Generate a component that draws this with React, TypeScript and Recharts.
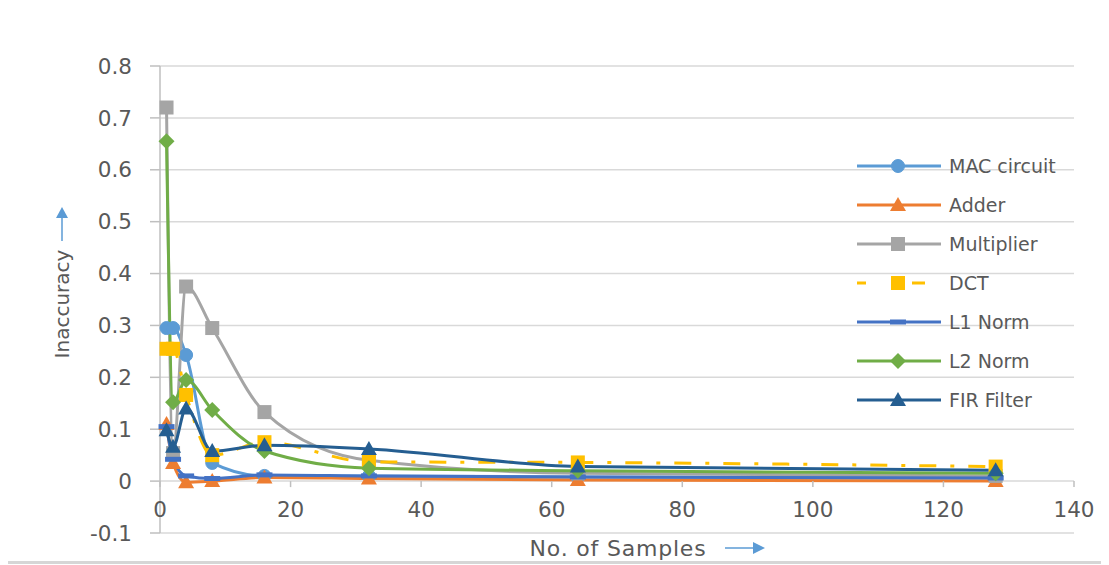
import React from 'react';
import { LineChart, Line, XAxis, YAxis, CartesianGrid, Label } from 'recharts';

const samples = [1, 2, 4, 8, 16, 32, 64, 128];
const macCircuit = [0.295, 0.295, 0.243, 0.035, 0.01, 0.01, 0.008, 0.006];
const adder = [0.11, 0.035, -0.002, 0.0, 0.007, 0.005, 0.002, 0.0];
const multiplier = [0.72, 0.054, 0.375, 0.295, 0.133, 0.04, 0.015, 0.01];
const dct = [0.255, 0.255, 0.166, 0.05, 0.075, 0.037, 0.036, 0.028];
const l1Norm = [0.105, 0.042, 0.01, 0.005, 0.012, 0.01, 0.008, 0.006];
const l2Norm = [0.655, 0.152, 0.195, 0.137, 0.058, 0.025, 0.02, 0.015];
const firFilter = [0.098, 0.066, 0.14, 0.058, 0.069, 0.062, 0.028, 0.021];

const xTicks = [0, 20, 40, 60, 80, 100, 120, 140];
const yTicks = [-0.1, 0, 0.1, 0.2, 0.3, 0.4, 0.5, 0.6, 0.7, 0.8];

const FONT = '"DejaVu Sans", sans-serif';
const TEXT = '#595959';
const GRID = '#d9d9d9';
const AXIS = '#bfbfbf';

const W = 1093;
const H = 552;
const PLOT_TOP = 58;
const PLOT_H = 467;
const Y_MIN = -0.1;
const Y_MAX = 0.8;
const zeroY = PLOT_TOP + (PLOT_H * Y_MAX) / (Y_MAX - Y_MIN);

const series = [
  { key: 'mac', name: 'MAC circuit', color: '#5B9BD5', shape: 'circle', values: macCircuit },
  { key: 'adder', name: 'Adder', color: '#ED7D31', shape: 'triangle', values: adder },
  { key: 'mult', name: 'Multiplier', color: '#A5A5A5', shape: 'square', values: multiplier },
  { key: 'dct', name: 'DCT', color: '#FFC000', shape: 'square', values: dct, dash: '17 14 4 14' },
  { key: 'l1', name: 'L1 Norm', color: '#4472C4', shape: 'dash', values: l1Norm },
  { key: 'l2', name: 'L2 Norm', color: '#70AD47', shape: 'diamond', values: l2Norm },
  { key: 'fir', name: 'FIR Filter', color: '#255E91', shape: 'triangle', values: firFilter },
];

const data = samples.map((s, i) => {
  const row: Record<string, number> = { samples: s };
  series.forEach(sr => { row[sr.key] = sr.values[i]; });
  return row;
});

const Marker = ({ shape, cx, cy, color }: { shape: string; cx: number; cy: number; color: string }) => {
  if (cx == null || cy == null) return <g />;
  switch (shape) {
    case 'circle':
      return <circle cx={cx} cy={cy} r={6.5} fill={color} stroke={color} />;
    case 'triangle':
      return <polygon points={`${cx},${cy - 8} ${cx - 8},${cy + 6} ${cx + 8},${cy + 6}`} fill={color} />;
    case 'square':
      return <rect x={cx - 7} y={cy - 7} width={14} height={14} fill={color} />;
    case 'diamond':
      return <polygon points={`${cx},${cy - 8} ${cx + 8},${cy} ${cx},${cy + 8} ${cx - 8},${cy}`} fill={color} />;
    case 'dash':
      return <rect x={cx - 8} y={cy - 2.5} width={16} height={5} fill={color} />;
    default:
      return <g />;
  }
};

const XTick = ({ x, payload }: any) => (
  <g>
    <line x1={x} x2={x} y1={zeroY} y2={zeroY + 6} stroke={AXIS} strokeWidth={1.5} />
    <text x={x} y={zeroY + 36} textAnchor="middle" fill={TEXT} fontSize={21.5} fontFamily={FONT}>
      {payload.value}
    </text>
  </g>
);

const YTitle = () => (
  <g>
    <text
      x={54}
      y={296}
      transform="rotate(-90 54 296)"
      textAnchor="middle"
      dominantBaseline="central"
      fill={TEXT}
      fontSize={20}
      fontFamily={FONT}
    >
      Inaccuracy
    </text>
    <line x1={54} x2={54} y1={233} y2={208} stroke="#5B9BD5" strokeWidth={1.5} />
    <polygon points="54,199 48,210 60,210" fill="#5B9BD5" />
  </g>
);

const XTitle = () => (
  <g>
    <text
      x={610}
      y={540}
      textAnchor="middle"
      dominantBaseline="central"
      fill={TEXT}
      fontSize={22}
      fontFamily={FONT}
      letterSpacing={0.8}
    >
      No. of Samples
    </text>
    <line x1={717} x2={746} y1={540} y2={540} stroke="#5B9BD5" strokeWidth={1.5} />
    <polygon points="757,540 745,534 745,546" fill="#5B9BD5" />
  </g>
);

const LegendBox = () => (
  <div style={{ position: 'absolute', left: 849, top: 138, fontFamily: FONT }}>
    {series.map(sr => (
      <div key={sr.key} style={{ display: 'flex', alignItems: 'center', height: 39 }}>
        <svg width={84} height={20}>
          <line x1={0} x2={84} y1={10} y2={10} stroke={sr.color} strokeWidth={3} strokeDasharray={sr.dash ? '9 46 13 16' : undefined} />
          <Marker shape={sr.shape} cx={41} cy={10} color={sr.color} />
        </svg>
        <span style={{ marginLeft: 8, fontSize: 19, color: TEXT }}>{sr.name}</span>
      </div>
    ))}
  </div>
);

export default function App() {
  return (
    <div
      style={{
        position: 'relative',
        marginLeft: -3,
        marginTop: -3,
        width: W + 4,
        height: H + 1,
        borderLeft: '3px solid #d6d6d6',
        borderTop: '3px solid #d6d6d6',
        borderBottom: '3px solid #d6d6d6',
        background: '#fff',
      }}
    >
      <LineChart width={W} height={H} data={data} margin={{ top: PLOT_TOP, right: 27, left: 92, bottom: 0 }}>
        <CartesianGrid vertical={false} stroke={GRID} strokeWidth={1.5} />
        <XAxis
          dataKey="samples"
          type="number"
          domain={[0, 140]}
          ticks={xTicks}
          height={27}
          axisLine={false}
          tickLine={false}
          tick={<XTick />}
          interval={0}
        >
          <Label content={() => <XTitle />} />
        </XAxis>
        <YAxis
          type="number"
          domain={[Y_MIN, Y_MAX]}
          ticks={yTicks}
          width={60}
          interval={0}
          tickFormatter={(v: number) => String(Number(v.toFixed(1)))}
          axisLine={{ stroke: AXIS, strokeWidth: 1.5 }}
          tickLine={{ stroke: AXIS, strokeWidth: 1.5 }}
          tickSize={10}
          tickMargin={18}
          tick={{ fill: TEXT, fontSize: 21.5, fontFamily: FONT }}
        >
          <Label content={() => <YTitle />} />
        </YAxis>
        {series.map(sr => (
          <Line
            key={sr.key}
            type="monotone"
            dataKey={sr.key}
            name={sr.name}
            stroke={sr.color}
            strokeWidth={3}
            strokeDasharray={sr.dash}
            isAnimationActive={false}
            dot={(p: any) => <Marker key={`${sr.key}-${p.index}`} shape={sr.shape} cx={p.cx} cy={p.cy} color={sr.color} />}
            activeDot={false}
          />
        ))}
      </LineChart>
      <LegendBox />
    </div>
  );
}
